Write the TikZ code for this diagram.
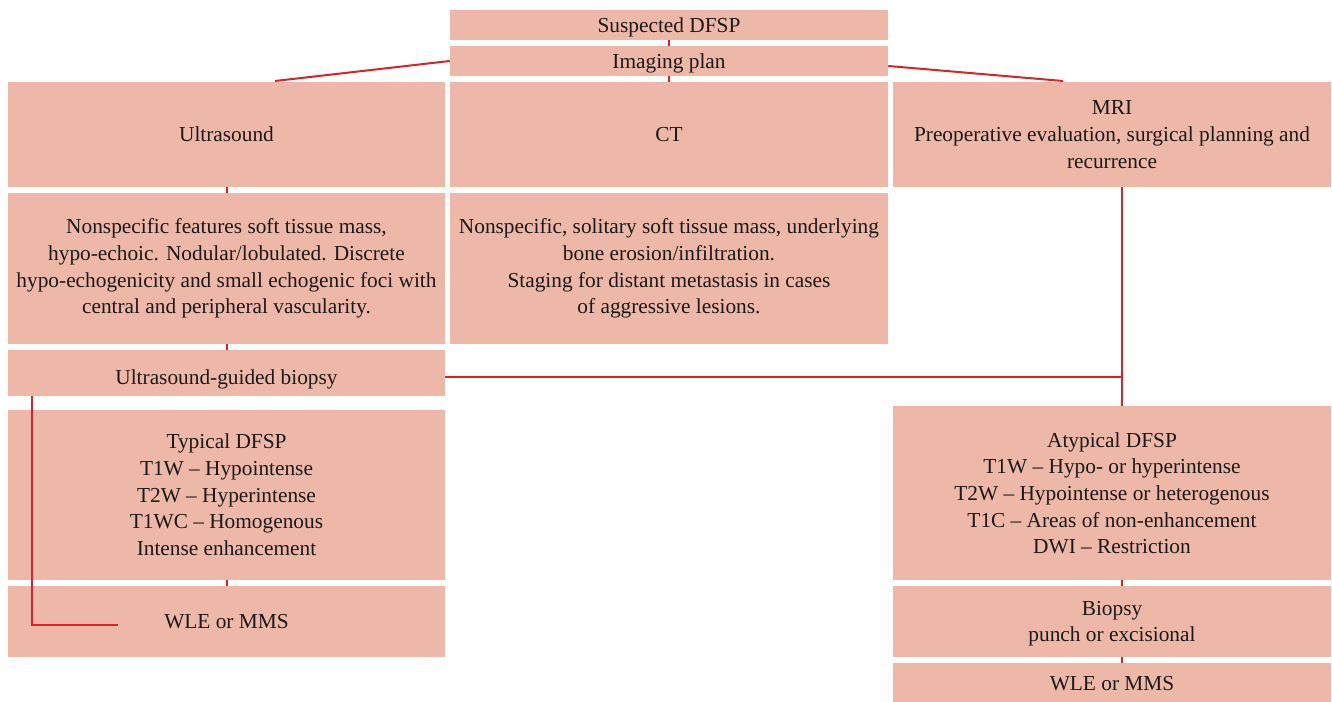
\documentclass[tikz,border=0pt]{standalone}
\usepackage{fontspec}
\setmainfont{Liberation Serif}
\newfontfamily\timesfont{Liberation Serif}
\usetikzlibrary{calc}
\definecolor{boxfill}{HTML}{EDB8A7}
\definecolor{linkred}{HTML}{D9222A}
\definecolor{txt}{HTML}{1A1A1A}
\begin{document}
\begin{tikzpicture}[x=0.75pt,y=-0.75pt,
  box/.style={fill=boxfill,draw=none,inner sep=0pt,align=center,text=txt,
    font=\timesfont\fontsize{16}{20}\selectfont},
  low/.style={text height=#1,text depth=0pt},
  link/.style={draw=linkred,line width=1.5pt}]
\useasboundingbox (0,0) rectangle (1332,702);
\fill[white] (0,0) rectangle (1332,702);
\node[box,low=12pt,minimum width=328.5pt,minimum height=22.5pt] (sus) at (669,25) {Suspected DFSP};
\node[box,low=12pt,minimum width=328.5pt,minimum height=22.5pt] (img) at (669,61) {Imaging plan};
\node[box,minimum width=327.75pt,minimum height=78.75pt] (us) at (226.5,134.5) {Ultrasound};
\node[box,minimum width=328.5pt,minimum height=78.75pt] (ct) at (669,134.5) {CT};
\node[box,minimum width=328.5pt,minimum height=78.75pt] (mri) at (1112,134.5) {MRI\\Preoperative evaluation, surgical planning and\\recurrence};
\node[box,minimum width=327.75pt,minimum height=113.25pt] (usf) at (226.5,268.5) {Nonspecific features soft tissue mass,\\hypo-echoic. Nodular/lobulated. Discrete\\hypo-echogenicity and small echogenic foci with\\central and peripheral vascularity.};
\node[box,minimum width=328.5pt,minimum height=113.25pt] (ctf) at (669,268.5) {Nonspecific, solitary soft tissue mass, underlying\\bone erosion/infiltration.\\Staging for distant metastasis in cases\\of aggressive lesions.};
\node[box,low=16.5pt,minimum width=327.75pt,minimum height=34.5pt] (usb) at (226.5,373) {Ultrasound-guided biopsy};
\node[box,minimum width=327.75pt,minimum height=127.5pt] (typ) at (226.5,495) {Typical DFSP\\T1W – Hypointense\\T2W – Hyperintense\\T1WC – Homogenous\\Intense enhancement};
\node[box,minimum width=327.75pt,minimum height=53.25pt] (wlel) at (226.5,621.5) {WLE or MMS};
\node[box,text depth=0pt,minimum width=328.5pt,minimum height=130.5pt] (atyp) at (1112,493) {Atypical DFSP\\T1W – Hypo- or hyperintense\\T2W – Hypointense or heterogenous\\T1C – Areas of non-enhancement\\DWI – Restriction};
\node[box,text depth=0pt,minimum width=328.5pt,minimum height=53.25pt] (bio) at (1112,621.5) {Biopsy\\punch or excisional};
\node[box,low=12pt,minimum width=328.5pt,minimum height=29.25pt] (wler) at (1112,682.5) {WLE or MMS};
% connectors
\coordinate (usTop) at (275,81);
\coordinate (mriTop) at (1063,81);
\coordinate (rx) at (1122,0);
\coordinate (lx) at (32,0);
\coordinate (lend) at (118,625);
\draw[link] (sus.south) -- (img.north);
\draw[link] (img.south) -- (ct.north);
\draw[link] (img.west) -- (usTop);
\draw[link] ($(img.east)+(0,5)$) -- (mriTop);
\draw[link] (us.south) -- (usf.north);
\draw[link] (usf.south) -- (usb.north);
\draw[link] (typ.south) -- (wlel.north);
\draw[link] (mri.south -| rx) -- (atyp.north -| rx);
\draw[link] ($(usb.east)+(0,4)$) -- ($(usb.east -| rx)+(0,4)$);
\draw[link] (atyp.south -| rx) -- (bio.north -| rx);
\draw[link] (bio.south -| rx) -- (wler.north -| rx);
\draw[link] (usb.south -| lx) |- (lend);
\end{tikzpicture}
\end{document}
